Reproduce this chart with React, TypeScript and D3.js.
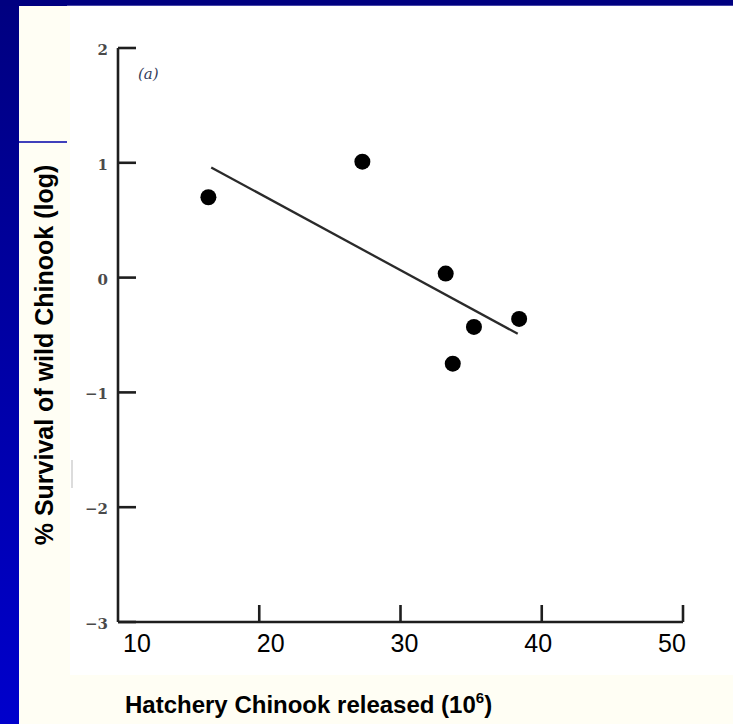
import React from "react";
import * as d3 from "d3";

const W = 733;
const H = 724;

// data
const releasedX = [16.4, 27.3, 33.2, 33.7, 35.2, 38.4];
const survivalY = [0.7, 1.01, 0.035, -0.75, -0.43, -0.36];
const fitX = [16.6, 38.3];
const fitY = [0.96, -0.49];
const xTicks = [10, 20, 30, 40, 50];
const yTicks = [2, 1, 0, -1, -2, -3];
const yTickLabels = ["2", "1", "0", "\u22121", "\u22122", "\u22123"];

export default function App() {
  const x = d3.scaleLinear().domain([10, 50]).range([118, 683]);
  const y = d3.scaleLinear().domain([-3, 2]).range([622, 48]);
  // the x tick labels are overlaid text, slightly off the ticks
  const xl = d3.scaleLinear().domain([10, 50]).range([137, 672]);

  const fitLine = d3
    .line<number>()
    .x((d) => x(fitX[d]))
    .y((d) => y(fitY[d]))([0, 1]) as string;

  const axisColor = "#1e1e1e";

  return (
    <svg
      width={W}
      height={H}
      style={{ position: "fixed", left: 0, top: 0, display: "block" }}
    >
      <defs>
        <linearGradient id="blueSide" x1="0" y1="0" x2="0" y2="1">
          <stop offset="0" stopColor="#000080" />
          <stop offset="1" stopColor="#0000CC" />
        </linearGradient>
      </defs>
      {/* background */}
      <rect x={0} y={0} width={W} height={H} fill="url(#blueSide)" />
      <rect x={0} y={0} width={W} height={6} fill="#000080" />
      <rect x={19} y={6} width={W - 19} height={H - 6} fill="#FFFEF4" />
      <rect x={70} y={6} width={W - 70} height={669} fill="#FFFFFF" />
      <line x1={67} x2={W} y1={5.5} y2={5.5} stroke="#4646A8" strokeWidth={1.2} />
      <line x1={19} x2={67} y1={142} y2={142} stroke="#0000A8" strokeWidth={1.5} />
      <line x1={72} x2={72} y1={460} y2={488} stroke="#dcdcdc" strokeWidth={2} />

      {/* axes */}
      <line x1={x(10)} x2={x(10)} y1={y(2)} y2={y(-3)} stroke={axisColor} strokeWidth={2.6} />
      <line x1={x(10)} x2={x(50)} y1={y(-3)} y2={y(-3)} stroke={axisColor} strokeWidth={2.6} />
      {yTicks.map((t) => (
        <line key={"yt" + t} x1={x(10)} x2={x(10) + 18} y1={y(t)} y2={y(t)} stroke={axisColor} strokeWidth={2.6} />
      ))}
      {xTicks.slice(1).map((t) => (
        <line key={"xt" + t} x1={x(t)} x2={x(t)} y1={y(-3)} y2={y(-3) - 17} stroke={axisColor} strokeWidth={2.6} />
      ))}

      {/* y tick labels */}
      {yTicks.map((t, i) => (
        <text
          key={"yl" + t}
          x={108}
          y={y(t) + 7}
          textAnchor="end"
          fontFamily="'DejaVu Serif', 'Liberation Serif', serif"
          fontSize={15}
          fontWeight="bold"
          fill="#4a4a4a"
        >
          {yTickLabels[i]}
        </text>
      ))}

      {/* x tick labels */}
      {xTicks.map((t) => (
        <text
          key={"xl" + t}
          x={xl(t)}
          y={652}
          textAnchor="middle"
          fontFamily="'Liberation Sans', Arial, sans-serif"
          fontSize={25}
          fill="#000"
        >
          {t}
        </text>
      ))}

      {/* panel label */}
      <text
        x={138}
        y={79}
        fontFamily="'DejaVu Serif', serif"
        fontStyle="italic"
        fontSize={15}
        fill="#34405a"
      >
        (a)
      </text>

      {/* fit line */}
      <path d={fitLine} fill="none" stroke="#2a2a2a" strokeWidth={2.3} />

      {/* points */}
      {releasedX.map((v, i) => (
        <circle key={"p" + i} cx={x(v)} cy={y(survivalY[i])} r={8} fill="#000" />
      ))}

      {/* axis titles */}
      <text
        x={125}
        y={713}
        fontFamily="'Liberation Sans', Arial, sans-serif"
        fontWeight="bold"
        fontSize={24}
        fill="#000"
      >
        Hatchery Chinook released (10
        <tspan fontSize={15} dy={-10}>6</tspan>
        <tspan dy={10}>)</tspan>
      </text>
      <text
        transform={`translate(53, 355) rotate(-90)`}
        textAnchor="middle"
        fontFamily="'Liberation Sans', Arial, sans-serif"
        fontWeight="bold"
        fontSize={25}
        fill="#000"
      >
        % Survival of wild Chinook (log)
      </text>
    </svg>
  );
}
